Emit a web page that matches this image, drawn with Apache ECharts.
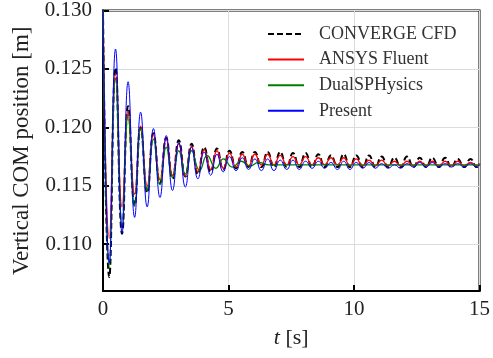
<!DOCTYPE html>
<html><head><meta charset="utf-8">
<script src="https://cdn.jsdelivr.net/npm/echarts@6/dist/echarts.min.js"></script>
<style>html,body{margin:0;padding:0;background:#fff}#c{width:493px;height:358px}</style>
</head><body><div id="c"></div>
<script>
// time of each extremum (s)
const tExt = [0, 0.25, 0.50, 0.76, 1.00, 1.26, 1.50, 1.76, 2.01, 2.27, 2.52, 2.77, 3.02, 3.28, 3.53, 3.78, 4.03, 4.29, 4.54, 4.79, 5.04, 5.30, 5.55, 5.80, 6.05, 6.31, 6.56, 6.81, 7.06, 7.32, 7.57, 7.82, 8.07, 8.33, 8.58, 8.83, 9.08, 9.34, 9.59, 9.84, 10.09, 10.35, 10.60, 10.85, 11.10, 11.36, 11.61, 11.86, 12.11, 12.37, 12.62, 12.87, 13.12, 13.38, 13.63, 13.88, 14.13, 14.39, 14.64, 14.89, 15.00];
const converge = [0.1300, 0.1072, 0.1251, 0.1109, 0.1218, 0.1133, 0.1200, 0.1144, 0.1195, 0.1152, 0.1191, 0.1156, 0.1189, 0.1158, 0.1186, 0.1160, 0.1183, 0.1162, 0.1182, 0.1164, 0.1180, 0.1165, 0.1179, 0.1166, 0.1179, 0.1166, 0.1179, 0.1166, 0.1179, 0.1166, 0.1178, 0.1166, 0.1178, 0.1166, 0.1177, 0.1166, 0.1176, 0.1166, 0.1177, 0.1166, 0.1176, 0.1166, 0.1176, 0.1166, 0.1175, 0.1166, 0.1174, 0.1166, 0.1175, 0.1166, 0.1174, 0.1166, 0.1174, 0.1166, 0.1174, 0.1166, 0.1173, 0.1166, 0.1173, 0.1166, 0.1169];
const fluent = [0.1300, 0.1105, 0.1246, 0.1132, 0.1214, 0.1143, 0.1201, 0.1150, 0.1194, 0.1155, 0.1190, 0.1159, 0.1186, 0.1158, 0.1184, 0.1162, 0.1181, 0.1164, 0.1180, 0.1165, 0.1178, 0.1166, 0.1177, 0.1167, 0.1177, 0.1168, 0.1177, 0.1168, 0.1176, 0.1168, 0.1175, 0.1168, 0.1175, 0.1168, 0.1174, 0.1168, 0.1174, 0.1168, 0.1174, 0.1167, 0.1173, 0.1167, 0.1172, 0.1167, 0.1172, 0.1167, 0.1171, 0.1167, 0.1171, 0.1167, 0.1171, 0.1167, 0.1171, 0.1167, 0.1171, 0.1167, 0.1171, 0.1167, 0.1170, 0.1167, 0.1168];
const present = [0.1300, 0.1084, 0.1267, 0.1110, 0.1239, 0.1123, 0.1213, 0.1132, 0.1199, 0.1140, 0.1193, 0.1146, 0.1187, 0.1149, 0.1183, 0.1156, 0.1179, 0.1159, 0.1177, 0.1162, 0.1175, 0.1163, 0.1174, 0.1164, 0.1173, 0.1163, 0.1173, 0.1163, 0.1172, 0.1164, 0.1172, 0.1164, 0.1171, 0.1165, 0.1171, 0.1165, 0.1170, 0.1164, 0.1171, 0.1164, 0.1170, 0.1165, 0.1170, 0.1165, 0.1169, 0.1165, 0.1168, 0.1165, 0.1169, 0.1166, 0.1170, 0.1166, 0.1170, 0.1166, 0.1169, 0.1166, 0.1169, 0.1166, 0.1169, 0.1166, 0.1168];
// DualSPHysics has its own timing after ~3 s
const tDual = [0, 0.25, 0.50, 0.76, 1.00, 1.26, 1.50, 1.76, 2.01, 2.27, 2.52, 2.77, 3.02, 3.28, 3.53, 3.85, 4.15, 4.50, 4.80, 5.15, 5.50, 5.85, 6.20, 6.60, 7.50, 9.00, 11.00, 13.00, 15.00];
const dual = [0.1300, 0.1080, 0.1242, 0.1119, 0.1210, 0.1133, 0.1199, 0.1146, 0.1190, 0.1151, 0.1183, 0.1157, 0.1180, 0.1160, 0.1180, 0.1163, 0.1176, 0.1165, 0.1173, 0.1166, 0.1171, 0.1167, 0.1170, 0.1168, 0.1168, 0.1168, 0.1168, 0.1168, 0.1168];
const yTicks = [0.110, 0.115, 0.120, 0.125, 0.130];
const xTicks = [0, 5, 10, 15];
const seriesNames = ['CONVERGE CFD', 'ANSYS Fluent', 'DualSPHysics', 'Present'];

const zip = (ts, vs) => ts.map((t, i) => [t, vs[i]]);
const FONT = '"Liberation Serif", "Times New Roman", serif';
const chart = echarts.init(document.getElementById('c'), null, {renderer: 'canvas'});
chart.setOption({
  animation: false,
  backgroundColor: '#fff',
  grid: {left: 103, right: 12, top: 9, bottom: 67, show: true, borderColor: '#000', borderWidth: 2, backgroundColor: 'transparent'},
  legend: {
    orient: 'vertical', left: 262, top: 20, itemWidth: 36, itemHeight: 14, itemGap: 7.6,
    itemStyle: {opacity: 0},
    textStyle: {fontFamily: FONT, fontSize: 18, color: '#333', padding: [0, 0, 0, 10]},
    data: seriesNames
  },
  xAxis: {
    type: 'value', min: 0, max: 15, interval: 5,
    name: '{i|t} [s]', nameLocation: 'middle', nameGap: 36,
    nameTextStyle: {fontFamily: FONT, fontSize: 22, color: '#222', rich: {i: {fontFamily: FONT, fontStyle: 'italic', fontSize: 22, color: '#222'}}},
    axisLine: {show: true, lineStyle: {color: '#000', width: 2}},
    axisTick: {show: true, inside: true, length: 6, lineStyle: {color: '#000', width: 2}},
    axisLabel: {fontFamily: FONT, fontSize: 21, color: '#222', margin: 8,
      formatter: v => xTicks.includes(v) ? String(v) : ''},
    splitLine: {show: true, lineStyle: {color: '#dcdcdc', width: 1}}
  },
  yAxis: {
    type: 'value', min: 0.106, max: 0.130,
    name: 'Vertical COM position [m]', nameLocation: 'middle', nameGap: 68,
    nameTextStyle: {fontFamily: FONT, fontSize: 23, color: '#222'},
    axisLine: {show: true, lineStyle: {color: '#000', width: 2}},
    axisTick: {show: true, inside: true, length: 6, lineStyle: {color: '#000', width: 2}},
    axisLabel: {fontFamily: FONT, fontSize: 21, color: '#222', margin: 11,
      formatter: v => { const m = yTicks.find(t => Math.abs(t - v) < 1e-7); return m !== undefined ? m.toFixed(3) : ''; }},
    splitLine: {show: true, lineStyle: {color: '#dcdcdc', width: 1}}
  },
  series: [
    {name: seriesNames[0], type: 'line', symbol: 'none', smooth: 0.5, z: 2,
     data: zip(tExt, converge), lineStyle: {color: '#000', width: 2, type: [6, 3]}, itemStyle: {color: '#000'}},
    {name: seriesNames[1], type: 'line', symbol: 'none', smooth: 0.5, z: 3,
     data: zip(tExt, fluent), lineStyle: {color: '#ff0000', width: 1.3}, itemStyle: {color: '#ff0000'}},
    {name: seriesNames[2], type: 'line', symbol: 'none', smooth: 0.5, z: 4,
     data: zip(tDual, dual), lineStyle: {color: '#008000', width: 1.3}, itemStyle: {color: '#008000'}},
    {name: seriesNames[3], type: 'line', symbol: 'none', smooth: 0.5, z: 5,
     data: zip(tExt, present), lineStyle: {color: '#0000ff', width: 1}, itemStyle: {color: '#0000ff'}}
  ]
});
</script></body></html>
